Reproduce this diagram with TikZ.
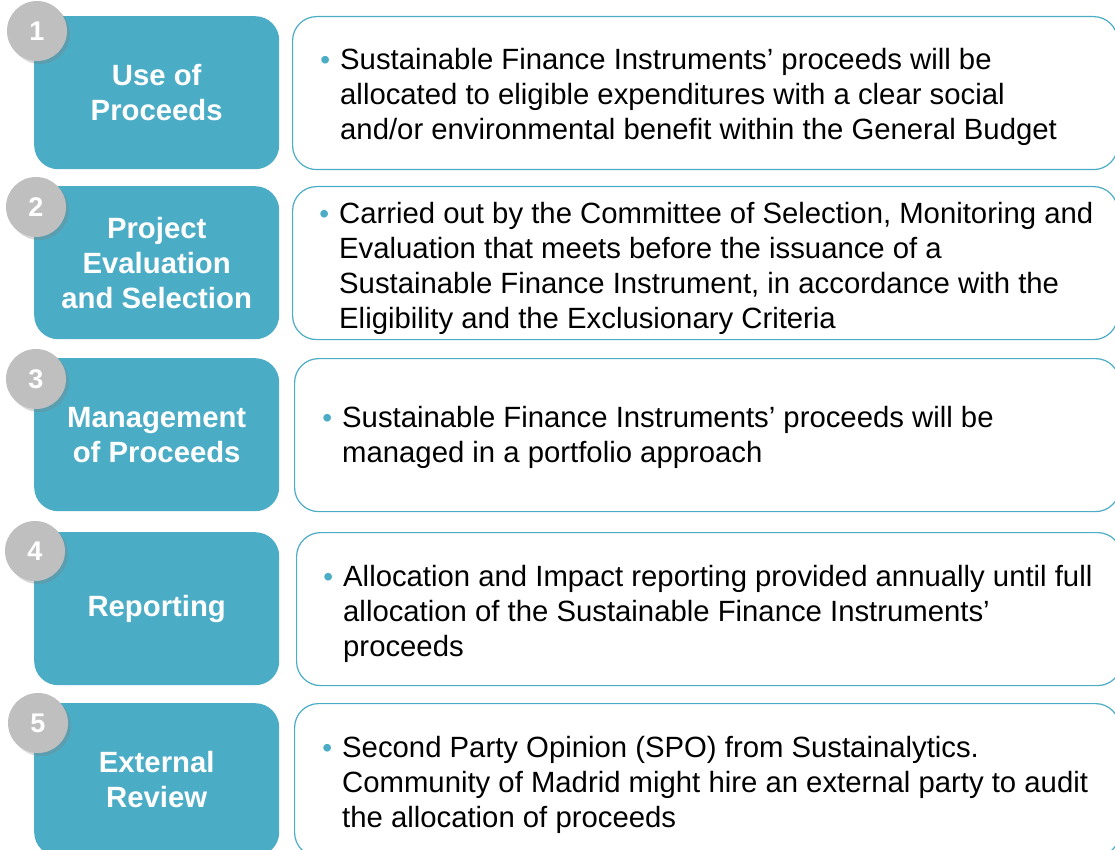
\documentclass[tikz,border=0pt]{standalone}
\usepackage{fontspec}
\setmainfont{Liberation Sans}
\usetikzlibrary{shadows}
\definecolor{tealc}{RGB}{75,172,198}
\definecolor{grayc}{RGB}{191,191,191}
\newcommand{\bul}{\llap{\textcolor{tealc}{\fontsize{28}{28}\selectfont •}\hspace{10pt}}}
\begin{document}
\begin{tikzpicture}[x=1pt,y=-1pt,
  stepbox/.style={fill=tealc, draw=none, rounded corners=24pt, text=white,
    font=\fontsize{29.3}{35}\selectfont\bfseries, align=center, inner sep=0pt,
    minimum width=245pt, minimum height=153pt, anchor=north west},
  descbox/.style={draw=tealc, line width=1.2pt, rounded corners=24pt, fill=white,
    minimum width=825pt, minimum height=153pt, anchor=north west, inner sep=0pt},
  numdot/.style={circle, fill=grayc, minimum size=60pt, inner sep=0pt, text=white,
    font=\fontsize{27}{27}\selectfont\bfseries,
    drop shadow={shadow xshift=3pt, shadow yshift=-3pt, opacity=0.3}},
  desctext/.style={anchor=west, align=left, font=\fontsize{29.3}{35.2}\selectfont,
    inner sep=0pt, text=black}]
\useasboundingbox (0,0) rectangle (1115,850);
\fill[white] (0,0) rectangle (1115,850);
% left boxes
\node[stepbox] (s1) at (34,16)  {Use of\\Proceeds};
\node[stepbox] (s2) at (34,186) {Project\\Evaluation\\and Selection};
\node[stepbox] (s3) at (34,358) {Management\\of Proceeds};
\node[stepbox] (s4) at (34,532) {Reporting};
\node[stepbox] (s5) at (34,703) {External\\Review};
% number badges
\node[numdot] (n1) at (37,31)  {1};
\node[numdot] (n2) at (36,207) {2};
\node[numdot] (n3) at (36,379) {3};
\node[numdot] (n4) at (35,551) {4};
\node[numdot] (n5) at (38,723) {5};
% right boxes
\node[descbox] (d1) at (292,16)  {};
\node[descbox] (d2) at (292,186) {};
\node[descbox] (d3) at (294,358) {};
\node[descbox] (d4) at (296,532) {};
\node[descbox] (d5) at (294,703) {};
% texts
\node[desctext] (x1) at (340,97) {\bul Sustainable Finance Instruments’ proceeds will be\\allocated to eligible expenditures with a clear social\\and/or environmental benefit within the General Budget};
\node[desctext] (x2) at (339,268.5) {\bul Carried out by the Committee of Selection, Monitoring and\\Evaluation that meets before the issuance of a\\Sustainable Finance Instrument, in accordance with the\\Eligibility and the Exclusionary Criteria};
\node[desctext] (x3) at (342,437.5) {\bul Sustainable Finance Instruments’ proceeds will be\\managed in a portfolio approach};
\node[desctext] (x4) at (343,614) {\bul Allocation and Impact reporting provided annually until full\\allocation of the Sustainable Finance Instruments’\\proceeds};
\node[desctext] (x5) at (342,785) {\bul Second Party Opinion (SPO) from Sustainalytics.\\Community of Madrid might hire an external party to audit\\the allocation of proceeds};
\end{tikzpicture}
\end{document}
